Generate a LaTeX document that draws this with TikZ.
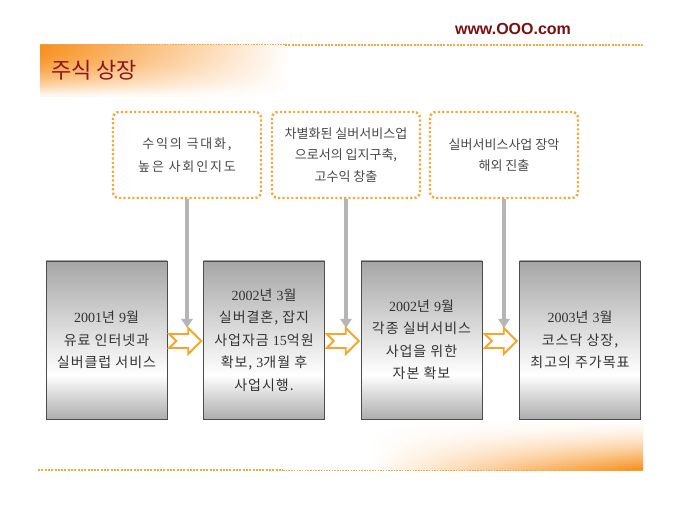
\documentclass[tikz,border=0pt]{standalone}
\usepackage{fontspec}
\setmainfont{Noto Sans CJK KR}
\newfontfamily\krs[LetterSpace=7]{Noto Sans CJK KR}
\newfontfamily\krw[LetterSpace=14]{Noto Sans CJK KR}
\newfontfamily\ser{Liberation Serif}
\newfontfamily\lsans{Liberation Sans}
\usetikzlibrary{arrows.meta,calc}
\definecolor{dotor}{HTML}{F2A93B}
\definecolor{titlered}{HTML}{8E1616}
\definecolor{urlred}{HTML}{7A1010}
\definecolor{grayar}{HTML}{B5B5B5}
\definecolor{boxgray}{HTML}{A6A6A6}
\definecolor{boxgrayb}{HTML}{ADADAD}
\definecolor{orangeg}{HTML}{F7901E}
\definecolor{chevor}{HTML}{F4A52A}
\definecolor{txt}{HTML}{333333}
\pgfdeclareverticalshading{stageshade}{100bp}{color(0bp)=(boxgrayb); color(25bp)=(boxgrayb); color(39bp)=(white); color(75bp)=(boxgray); color(100bp)=(boxgray)}
\begin{document}
\begin{tikzpicture}[x=1pt,y=-1pt,
 stagebox/.style={draw=black!70, line width=0.8pt, shading=stageshade, minimum width=121pt, minimum height=158pt, align=center, font=\krs\fontsize{14}{22.5}\selectfont, text=txt, inner sep=0pt},
 notebox/.style={draw=dotor, line width=2.4pt, dash pattern=on 2.2pt off 2.2pt, rounded corners=6pt, minimum width=148pt, minimum height=86pt, align=center, font=\fontsize{13}{21.5}\selectfont, text=black!72, inner sep=0pt},
 downarrow/.style={draw=grayar, line width=4pt, -{Triangle[width=11pt,length=9pt]}},
 chev/.style={draw=chevor, line width=1.8pt, fill=white, line join=miter},
 chevron/.pic={\path[chev] (-16,-7) -- (3,-7) -- (3,-13) -- (16,0) -- (3,13) -- (3,7) -- (-16,7) -- (-9,0) -- cycle;}
]
\useasboundingbox[fill=white] (0,0) rectangle (680,510);

% gradients (strips mixed with white)
\foreach \i in {0,...,25} {
  \pgfmathsetmacro\opa{100*(1-(\i/26)^2)}
  \pgfmathsetmacro\opb{50*(1-(\i/26)^2)}
  \fill[left color=orangeg!\opa, middle color=orangeg!\opb, right color=white] (40,{45+2*\i}) rectangle (290,{47+2*\i});
}
\foreach \i in {0,...,24} {
  \pgfmathsetmacro\opa{100*((\i+1)/25)^1.6}
  \pgfmathsetmacro\opb{35*((\i+1)/25)^1.6}
  \fill[left color=white, middle color=orangeg!\opb, right color=orangeg!\opa] (370,{420+2*\i}) rectangle (643,{422+2*\i});
}

% dotted rules
\draw[dotor, line width=1pt, dash pattern=on 1.5pt off 1.2pt] (40,45) -- (285,45);
\draw[dotor, line width=2.5pt, dash pattern=on 2pt off 1.3pt] (285,45) -- (643,45);
\draw[dotor, line width=2.5pt, dash pattern=on 2pt off 1.3pt] (38,470) -- (283,470);
\draw[dotor, line width=1pt, dash pattern=on 1.5pt off 1.2pt] (283,470) -- (643,470);

% header texts
\node[font=\lsans\bfseries\fontsize{16}{18}\selectfont, text=urlred] (url) at (513,29) {www.OOO.com};
\node[anchor=west, font=\fontsize{22}{24}\selectfont, text=titlered, inner sep=0pt] (title) at (51,70) {주식 상장};

% note boxes
\node[notebox, font=\krw\fontsize{13}{23}\selectfont] (n1) at (187,155) {수익의 극대화,\\높은 사회인지도};
\node[notebox] (n2) at (346,155) {차별화된 실버서비스업\\으로서의 입지구축,\\고수익 창출};
\node[notebox] (n3) at (504,155) {실버서비스사업 장악\\해외 진출};

% stage boxes
\node[stagebox] (s1) at (106.5,340) {{\ser 2001}년 {\ser 9}월\\유료 인터넷과\\실버클럽 서비스};
\node[stagebox] (s2) at (264,340) {{\ser 2002}년 {\ser 3}월\\실버결혼, 잡지\\사업자금 {\ser 15}억원\\확보, {\ser 3}개월 후\\사업시행.};
\node[stagebox] (s3) at (421.5,340) {{\ser 2002}년 {\ser 9}월\\각종 실버서비스\\사업을 위한\\자본 확보};
\node[stagebox] (s4) at (580,340) {{\ser 2003}년 {\ser 3}월\\코스닥 상장,\\최고의 주가목표};

% gray arrows
\coordinate (t1) at (187,328);
\coordinate (t2) at (346,328);
\coordinate (t3) at (504,328);
\draw[downarrow] (n1.south) -- (t1);
\draw[downarrow] (n2.south) -- (t2);
\draw[downarrow] (n3.south) -- (t3);

% orange chevrons between stages
\path ($(s1.east)!0.5!(s2.west)$) ++(0,1) pic {chevron};
\path ($(s2.east)!0.5!(s3.west)$) ++(0,1) pic {chevron};
\path ($(s3.east)!0.5!(s4.west)$) ++(0,1) pic {chevron};
\end{tikzpicture}
\end{document}
